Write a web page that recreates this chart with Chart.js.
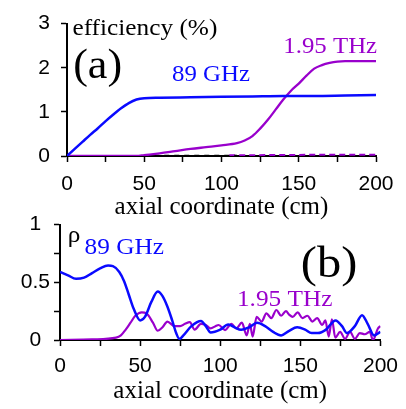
<!DOCTYPE html>
<html>
<head>
<meta charset="utf-8">
<script src="https://cdn.jsdelivr.net/npm/chart.js@4.4.1/dist/chart.umd.min.js"></script>
<style>
  html, body { margin: 0; padding: 0; background: #fff; }
  #wrap { position: relative; width: 406px; height: 409px; overflow: hidden; }
  .box { position: absolute; left: 0; width: 406px; }
  #boxA { top: 0; height: 222px; }
  #boxB { top: 208px; height: 201px; }
</style>
</head>
<body>
<div id="wrap">
  <div class="box" id="boxA"><canvas id="chartA"></canvas></div>
  <div class="box" id="boxB"><canvas id="chartB"></canvas></div>
</div>
<script>
// Colors
const BLUE = '#0a0aff';
const PURPLE = '#9900cc';

// Panel (a): efficiency (%) vs axial coordinate (cm)
const effX89 = [0, 5, 10, 15, 20, 25, 30, 35, 40, 45, 50, 60, 80, 100, 120, 140, 160, 180, 200];
const eff89 = [0, 0.16, 0.32, 0.48, 0.63, 0.79, 0.94, 1.08, 1.2, 1.28, 1.31, 1.32, 1.33, 1.34, 1.35, 1.36, 1.36, 1.37, 1.38];
const effX195 = [0, 45, 50, 60, 70, 80, 90, 100, 110, 115, 120, 125, 130, 135, 140, 145, 150, 155, 160, 165, 170, 175, 180, 190, 200];
const eff195 = [0, 0, 0.02, 0.06, 0.11, 0.16, 0.2, 0.24, 0.29, 0.35, 0.45, 0.62, 0.82, 1.05, 1.28, 1.48, 1.64, 1.82, 1.98, 2.06, 2.11, 2.14, 2.15, 2.15, 2.15];
const effXDashK = [50, 110];
const effDashK = [0.01, 0.01];
const effXDashP = [105, 150, 200];
const effDashP = [0.015, 0.025, 0.03];

// Panel (b): rho vs axial coordinate (cm)
const rhoX89 = [0, 5, 10, 15, 20, 25, 30, 33, 37, 40, 43, 46, 50, 53, 57, 61, 64, 67, 70, 72.5,
  74.5, 77, 82, 88, 91, 94, 100, 105, 109, 113, 118, 123, 128, 133, 138, 143, 148, 153, 157, 161,
  166, 172, 176, 179, 184, 188.5, 192, 196, 200];
const rho89 = [0.59, 0.56, 0.53, 0.54, 0.58, 0.62, 0.645, 0.64, 0.59, 0.51, 0.39, 0.27, 0.17, 0.2, 0.33, 0.42, 0.38, 0.29, 0.17, 0.06,
  0.01, 0.04, 0.12, 0.165, 0.12, 0.065, 0.09, 0.135, 0.11, 0.088, 0.11, 0.15, 0.12, 0.07, 0.04, 0.08, 0.11, 0.09, 0.06, 0.06,
  0.09, 0.17, 0.12, 0.06, 0.12, 0.215, 0.14, 0.04, 0.07];
const rhoX195 = [0, 20, 35, 38, 41, 44, 47, 51, 54, 58, 61, 64, 67, 71.5, 75, 78, 81, 84, 88, 91,
  94, 97, 99, 103, 107, 110, 113.5, 116.5, 118.5, 120.2, 122.7, 125.8, 128.8, 131.9, 135, 138, 141, 143, 145.2, 148.3,
  151.3, 154.4, 157.5, 160.5, 163.6, 165.6, 167.7, 169.7, 171.8, 174.8, 177.9, 181, 184, 187.1, 190.2, 193.3, 195.3, 198.4, 200];
const rho195 = [0, 0.005, 0.02, 0.04, 0.09, 0.15, 0.21, 0.24, 0.23, 0.15, 0.08, 0.11, 0.16, 0.12, 0.12, 0.14, 0.155, 0.09, 0.14, 0.13,
  0.1, 0.12, 0.13, 0.086, 0.14, 0.1, 0.15, 0.04, 0.14, 0.03, 0.2, 0.16, 0.23, 0.19, 0.26, 0.21, 0.25, 0.22, 0.2, 0.24,
  0.19, 0.21, 0.16, 0.19, 0.13, 0.17, 0.03, 0.18, 0.02, 0.07, 0.01, 0.07, 0.01, 0.06, 0.05, 0.07, 0.0, 0.1, 0.12];

const pts = (xs, ys) => xs.map((x, i) => ({ x: x, y: ys[i] }));

// Text drawn inside the plot, anchored in data units
function labelPlugin(items) {
    return {
        id: 'textLabels',
        afterDraw(chart) {
            const { ctx, scales } = chart;
            items.forEach(t => {
                ctx.save();
                ctx.font = t.font;
                ctx.fillStyle = t.color;
                ctx.textBaseline = 'middle';
                ctx.textAlign = 'left';
                ctx.translate(scales.x.getPixelForValue(t.x), scales.y.getPixelForValue(t.y));
                ctx.scale(t.sx || 1, 1);
                ctx.fillText(t.text, 0, 0);
                ctx.restore();
            });
        }
    };
}

const SANS = "'Liberation Sans', Arial, sans-serif";
const SERIF = "'Liberation Serif', 'Times New Roman', serif";

function axisX(height, titlePad, labelPad) {
    return {
        type: 'linear', min: 0, max: 200,
        afterFit: s => { s.height = height; },
        ticks: {
            stepSize: 25, autoSkip: false, maxRotation: 0, padding: labelPad, color: '#000',
            font: { family: SANS, size: 21 },
            callback: v => (v % 50 === 0 ? v : '')
        },
        grid: { drawOnChartArea: false, drawTicks: true, tickLength: 6, tickColor: '#000', tickWidth: 1.5 },
        border: { display: true, color: '#000', width: 2 },
        title: {
            display: true, text: 'axial coordinate (cm)', color: '#000',
            font: { family: SERIF, size: 25, lineHeight: 1 },
            padding: { top: 0, bottom: titlePad }
        }
    };
}

function lineSet(data, color, width, dash) {
    return {
        data: data, borderColor: color, borderWidth: width, borderDash: dash || [],
        pointRadius: 0, fill: false, cubicInterpolationMode: 'monotone'
    };
}

function initCharts() {
    // (a) efficiency
    new Chart(document.getElementById('chartA').getContext('2d'), {
        type: 'line',
        data: {
            datasets: [
                lineSet(pts(effX89, eff89), BLUE, 2.5),
                lineSet(pts(effX195, eff195), PURPLE, 2.3),
                lineSet(pts(effXDashK, effDashK), '#000', 1.5, [5, 5]),
                lineSet(pts(effXDashP, effDashP), PURPLE, 2, [6, 4])
            ]
        },
        options: {
            responsive: true,
            maintainAspectRatio: false,
            animation: false,
            layout: { padding: { top: 17, right: 30, left: 0, bottom: 0 } },
            scales: {
                x: axisX(66, 2, 10),
                y: {
                    min: 0, max: 3,
                    afterFit: s => { s.width = 67; },
                    ticks: {
                        stepSize: 0.5, padding: 11, color: '#000',
                        font: { family: SANS, size: 21 },
                        callback: v => (Number.isInteger(v) ? v : '')
                    },
                    grid: { drawOnChartArea: false, drawTicks: true, tickLength: 6, tickColor: '#000', tickWidth: 1.5 },
                    border: { display: true, color: '#000', width: 2 }
                }
            },
            plugins: { legend: { display: false }, tooltip: { enabled: false } }
        },
        plugins: [labelPlugin([
            { text: 'efficiency (%)', x: 3.5, y: 2.87, font: '23px ' + SERIF, color: '#000', sx: 1.1 },
            { text: '(a)', x: 4, y: 2.02, font: '42px ' + SERIF, color: '#000', sx: 1.05 },
            { text: '89 GHz', x: 68, y: 1.83, font: '23px ' + SERIF, color: BLUE, sx: 1.08 },
            { text: '1.95 THz', x: 140, y: 2.48, font: '23px ' + SERIF, color: PURPLE, sx: 1.08 }
        ])]
    });

    // (b) rho
    new Chart(document.getElementById('chartB').getContext('2d'), {
        type: 'line',
        data: {
            datasets: [
                lineSet(pts(rhoX89, rho89), BLUE, 2.5),
                lineSet(pts(rhoX195, rho195), PURPLE, 2.2)
            ]
        },
        options: {
            responsive: true,
            maintainAspectRatio: false,
            animation: false,
            layout: { padding: { top: 16, right: 20, left: 0, bottom: 0 } },
            scales: {
                x: axisX(69, 5, 8),
                y: {
                    min: 0, max: 1,
                    afterFit: s => { s.width = 60; },
                    ticks: {
                        stepSize: 0.25, padding: 4, color: '#000', crossAlign: 'center',
                        font: { family: SANS, size: 21 },
                        callback: v => (v === 0 || v === 0.5 || v === 1 ? v : '')
                    },
                    grid: { drawOnChartArea: false, drawTicks: true, tickLength: 6, tickColor: '#000', tickWidth: 1.5 },
                    border: { display: true, color: '#000', width: 2 }
                }
            },
            plugins: { legend: { display: false }, tooltip: { enabled: false } }
        },
        plugins: [labelPlugin([
            { text: 'ρ', x: 4.9, y: 0.9, font: '24px ' + SERIF, color: '#000', sx: 1.05 },
            { text: '89 GHz', x: 15.3, y: 0.8, font: '23px ' + SERIF, color: BLUE, sx: 1.1 },
            { text: '(b)', x: 150.3, y: 0.65, font: '44px ' + SERIF, color: '#000', sx: 1.1 },
            { text: '1.95 THz', x: 110.4, y: 0.345, font: '23px ' + SERIF, color: PURPLE, sx: 1.1 }
        ])]
    });
}

window.addEventListener('load', initCharts);
</script>
</body>
</html>
